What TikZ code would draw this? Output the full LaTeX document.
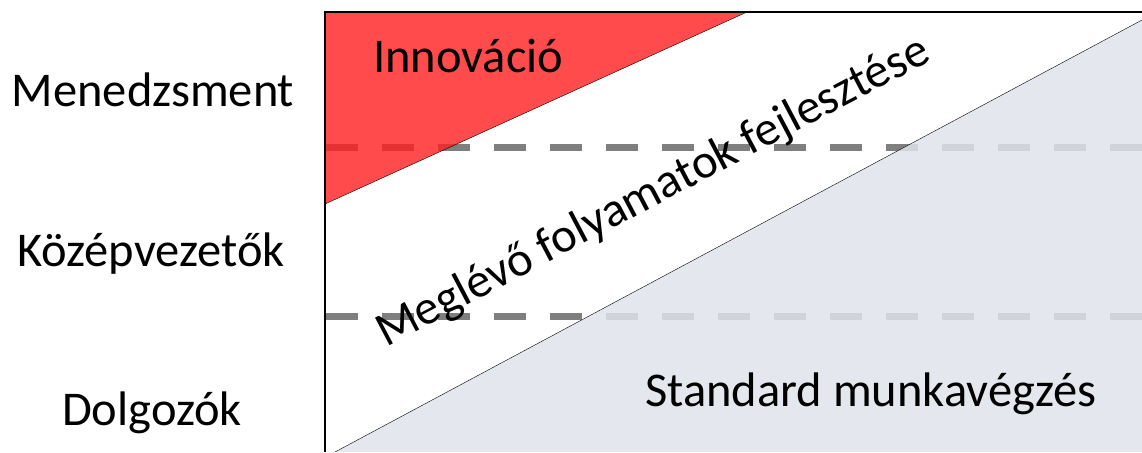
\documentclass[tikz,border=0pt]{standalone}
\usepackage{fontspec}
\setmainfont{Carlito}
\definecolor{innored}{RGB}{255,30,30}
\definecolor{stdgray}{RGB}{223,228,235}
\definecolor{dashgray}{RGB}{127,127,127}
\tikzset{
	levelline/.style={dashgray, line width=7pt, dash pattern=on 32pt off 24pt},
	lbl/.style={inner sep=0pt, font=\fontsize{48.5}{58}\selectfont},
}
\begin{document}
\begin{tikzpicture}[x=1pt, y=-1pt]
				\useasboundingbox (0,0) rectangle (1142,452);
				%level lines
				\draw[levelline] (326,147) -- (1142,147);
				\draw[levelline] (326,316) -- (1142,316);
				
				%areas
				\fill[innored, fill opacity=0.8] (325,12) -- (747,12) -- (325,204) -- cycle;
				\fill[stdgray, fill opacity=0.85] (335,452) -- (1142,20) -- (1142,452) -- cycle;
				\draw[thin] (325,204) -- (747,12);
				\draw[thin] (335,452) -- (1142,20);
				
				%frame
				\draw[line width=1.5pt] (325,452) -- (325,12) -- (1142,12);
				
				%levels
				\node[lbl, anchor=base] (menedzsment) at (153,106){Menedzsment};
				\node[lbl, anchor=base] (kozep) at (151,266){Középvezetők};
				\node[lbl, anchor=base] (dolgozok) at (152,425){Dolgozók};
				
				%areas text
				\node[lbl, anchor=base west] (innovacio) at (373,73){Innováció};
				\node[lbl, anchor=base west, rotate=27.8] (fejlesztes) at (386,348){Meglévő folyamatok fejlesztése};
				\node[lbl, anchor=base west] (standard) at (645,406){Standard munkavégzés};
			\end{tikzpicture}
\end{document}
